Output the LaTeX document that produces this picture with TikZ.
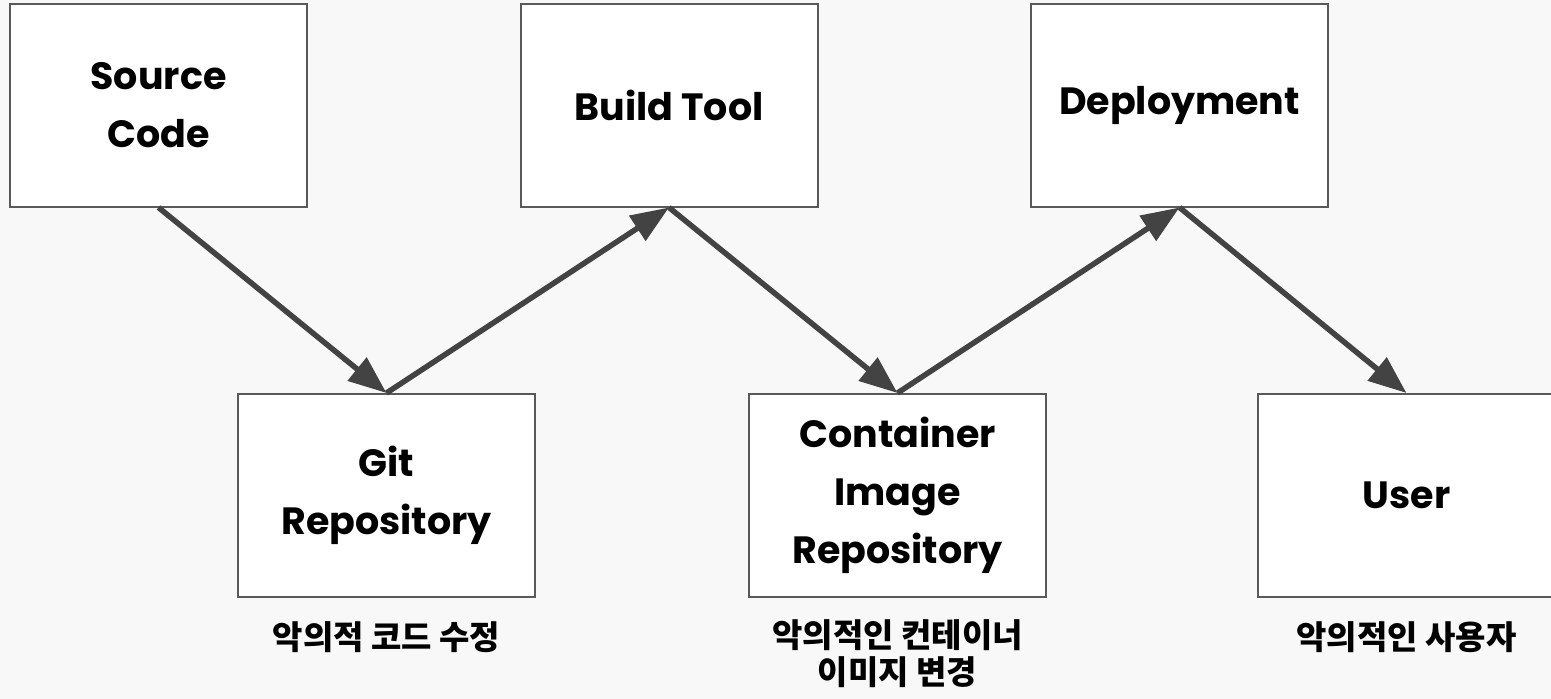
\documentclass[tikz,border=0pt]{standalone}
\usepackage{fontspec}
\setmainfont{Poppins}
\newfontfamily\krfont{Noto Sans CJK KR}
\usetikzlibrary{arrows.meta}
\definecolor{bg}{HTML}{F8F8F8}
\definecolor{edge}{HTML}{595959}
\definecolor{arrowgray}{HTML}{434343}
\tikzset{
  stage/.style={draw=edge, line width=2pt, fill=white,
    minimum width=297pt, minimum height=203pt, inner sep=0pt,
    align=center, font=\fontsize{38}{58}\selectfont\bfseries},
  flow/.style={draw=arrowgray, line width=5.5pt,
    -{Triangle[length=38pt,width=29pt]}},
  risk/.style={align=center,
    font=\krfont\bfseries\fontsize{33}{37}\selectfont}
}
\begin{document}
\begin{tikzpicture}[x=1pt,y=-1pt]
  \fill[bg] (0,0) rectangle (1551,699);
  \useasboundingbox (0,0) rectangle (1551,699);

  % pipeline stages
  \node[stage] (src)    at (158.5,105)   {Source\\Code};
  \node[stage] (git)    at (386.5,495.5) {Git\\Repository};
  \node[stage] (build)  at (669,105)     {Build Tool};
  \node[stage] (image)  at (897.5,495.5) {Container\\Image\\Repository};
  \node[stage] (deploy) at (1179.5,105)  {Deployment};
  \node[stage] (user)   at (1406.5,495.5) {User};

  % flow between stages
  \draw[flow] (src.south)    -- (git.north);
  \draw[flow] (git.north)    -- (build.south);
  \draw[flow] (build.south)  -- (image.north);
  \draw[flow] (image.north)  -- (deploy.south);
  \draw[flow] (deploy.south) -- (user.north);

  % threat notes
  \node[risk] (r1) at (386.5,637)  {악의적 코드 수정};
  \node[risk] (r2) at (897.5,654)  {악의적인 컨테이너\\이미지 변경};
  \node[risk] (r3) at (1406.5,637) {악의적인 사용자};
\end{tikzpicture}
\end{document}
